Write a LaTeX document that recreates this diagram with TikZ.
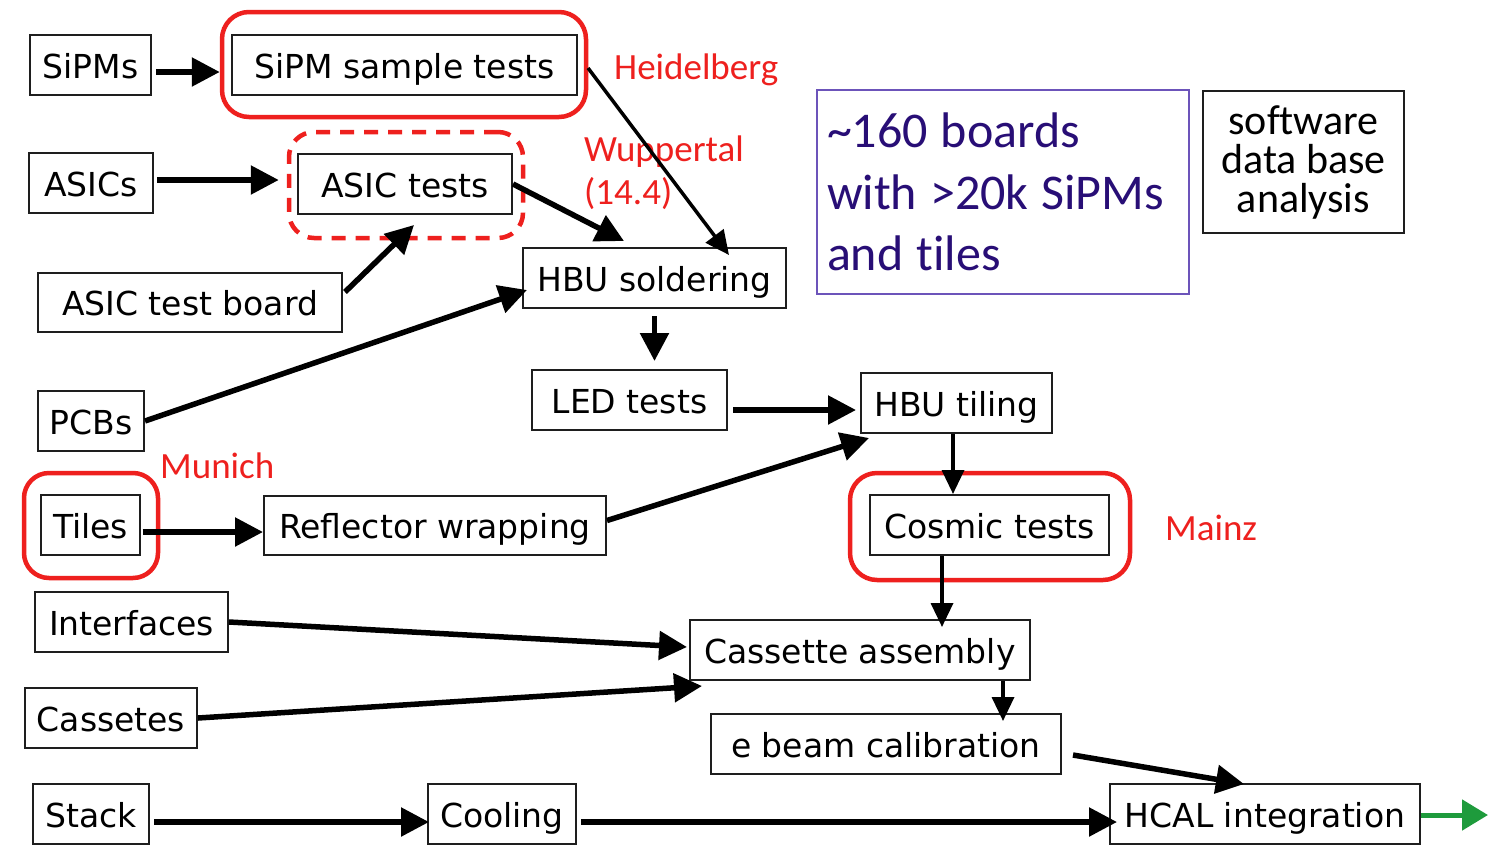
\documentclass[tikz,border=0pt]{standalone}
\usepackage{fontspec}
\setmainfont{DejaVu Sans}
\newfontfamily\calfont[Ligatures=NoCommon]{Carlito}
\usetikzlibrary{arrows.meta,calc}
\definecolor{lblred}{RGB}{238,32,30}
\definecolor{bluetxt}{RGB}{40,14,118}
\definecolor{blueline}{RGB}{108,84,186}
\definecolor{grn}{RGB}{30,155,60}
\definecolor{boxline}{RGB}{30,30,30}
\newcommand\tightwords{\spaceskip=13pt\relax}
\tikzset{
  box/.style={draw=boxline, line width=2pt, inner sep=0pt, text height=30pt, text depth=4pt, font=\fontsize{33}{40}\selectfont},
  redring/.style={draw=lblred, line width=4.5pt, rounded corners=27pt, inner sep=0pt},
  redlabel/.style={text=lblred, inner sep=0pt, font=\calfont\fontsize{37}{43}\selectfont},
  arr/.style={line width=5.5pt, -{Triangle[length=28pt,width=28pt]}},
  thinarr/.style={line width=3.5pt, -{Triangle[length=24pt,width=22pt]}},
}
\begin{document}
\begin{tikzpicture}[x=1pt,y=-1pt]
\useasboundingbox (0,0) rectangle (1488,844);
\fill[white] (0,0) rectangle (1488,844);
% red rings
\node[redring, minimum width=364, minimum height=105] (redsst) at (404,64.5) {};
\node[redring, dashed, dash pattern=on 14pt off 10pt, minimum width=234, minimum height=106, rounded corners=25pt] (redasic) at (406,185) {};
\node[redring, minimum width=134, minimum height=105, rounded corners=25pt] (redtiles) at (91,525.5) {};
\node[redring, minimum width=280, minimum height=107] (redcosmic) at (990,526.5) {};
% boxes
\node[box, minimum width=121, minimum height=60] (sipms) at (90.5,65) {SiPMs};
\node[box, minimum width=345, minimum height=60] (sst) at (404.5,65) {SiPM sample tests};
\node[box, minimum width=124, minimum height=60] (asics) at (91,183) {ASICs};
\node[box, minimum width=214, minimum height=60] (asict) at (405,184) {ASIC tests};
\node[box, minimum width=304, minimum height=59] (atb) at (190,302.5) {ASIC test board};
\node[box, minimum width=263, minimum height=60] (hbus) at (654.5,278) {HBU soldering};
\node[box, minimum width=106, minimum height=60] (pcbs) at (91,421) {PCBs};
\node[box, minimum width=195, minimum height=60] (led) at (629.5,400) {LED tests};
\node[box, minimum width=191, minimum height=60] (hbut) at (956.5,403) {HBU tiling};
\node[box, minimum width=99, minimum height=60] (tiles) at (90.5,525) {Tiles};
\node[box, minimum width=342, minimum height=59] (refl) at (435,525.5) {Reflector wrapping};
\node[box, minimum width=239, minimum height=60] (cosmic) at (989.5,525) {Cosmic tests};
\node[box, minimum width=193, minimum height=60] (interf) at (131.5,622) {Interfaces};
\node[box, minimum width=340, minimum height=60] (cass) at (860,650) {Cassette assembly};
\node[box, minimum width=172, minimum height=60] (casset) at (111,718) {Cassetes};
\node[box, minimum width=350, minimum height=60] (ebeam) at (886,744) {e beam calibration};
\node[box, minimum width=116, minimum height=60] (stack) at (91,814) {Stack};
\node[box, minimum width=148, minimum height=60] (cooling) at (502,814) {Cooling};
\node[box, minimum width=310, minimum height=60] (hcal) at (1265,814) {HCAL integration};
% info boxes
\node[draw=blueline, line width=2pt, minimum width=372, minimum height=204, inner xsep=10pt, inner ysep=0pt,
  text width=352, align=left, text=bluetxt, font=\calfont\fontsize{50}{61.5}\selectfont] (blue) at (1003,192)
  {\tightwords\textasciitilde160 boards\\\tightwords with >20k SiPMs\\\tightwords and tiles};
\node[draw=boxline, line width=2pt, minimum width=201, minimum height=142, inner sep=0pt,
  align=center, font=\calfont\fontsize{42}{39}\selectfont] (soft) at (1303.5,162)
  {software\\data base\\analysis};
% red labels
\node[redlabel, anchor=base west] (heid) at (614,79) {Heidelberg};
\node[redlabel, anchor=north west, align=left] (wup) at (584,136) {Wuppertal\\(14.4)};
\node[redlabel, anchor=base west] (mun) at (160,478) {Munich};
\node[redlabel, anchor=base west] (mainz) at (1165,540) {Mainz};
% arrows
\draw[arr] ($(sipms.east)+(4,7)$) -- (redsst.west |- {$(sipms.east)+(4,7)$});
\draw[arr] ($(asics.east)+(3,-3)$) -- ($(redasic.west)+(-8,-5)$);
\draw[arr] ($(atb.north east)+(2,20)$) -- ($(asict.south)+(9,10)$);
\draw[arr] (asict.east) -- ($(hbus.north west)+(102,-6)$);
\draw[thinarr] ($(sst.east)+(10,3)$) -- ($(hbus.north east)+(-58,8)$);
\draw[arr] (pcbs.east) -- ($(hbus.west)+(5,12)$);
\draw[arr] ($(hbus.south)+(0,7)$) -- ($(led.north)+(25,-8)$);
\draw[arr] ($(led.east)+(5,10)$) -- ($(hbut.west)+(-4,7)$);
\draw[arr] ($(refl.east)+(0,-5)$) -- ($(hbut.south west)+(9,4)$);
\draw[thinarr] ($(hbut.south)+(-3.5,0)$) -- ($(cosmic.north)+(-36.5,0)$);
\draw[arr] ($(tiles.east)+(1.5,7)$) -- ($(refl.west)+(0,6.5)$);
\draw[thinarr] ($(cosmic.south)+(-47.5,0)$) -- ($(cass.north)+(82,8)$);
\draw[arr] (interf.east) -- ($(cass.west)+(-2,-3)$);
\draw[arr] (casset.east) -- ($(cass.south west)+(13,5)$);
\draw[thinarr] ($(cass.south)+(143,0)$) -- ($(ebeam.north)+(117,8)$);
\draw[arr] ($(ebeam.east)+(11,11)$) -- ($(hcal.north west)+(135,1)$);
\draw[arr] ($(stack.east)+(4,8)$) -- ($(cooling.west)+(2,8)$);
\draw[arr] ($(cooling.east)+(4,8)$) -- ($(hcal.west)+(8,8)$);
\coordinate (out) at (1488,815);
\draw[grn, line width=5pt, -{Triangle[length=26pt,width=30pt]}] ($(hcal.east)+(0,1)$) -- (out);
\end{tikzpicture}
\end{document}
